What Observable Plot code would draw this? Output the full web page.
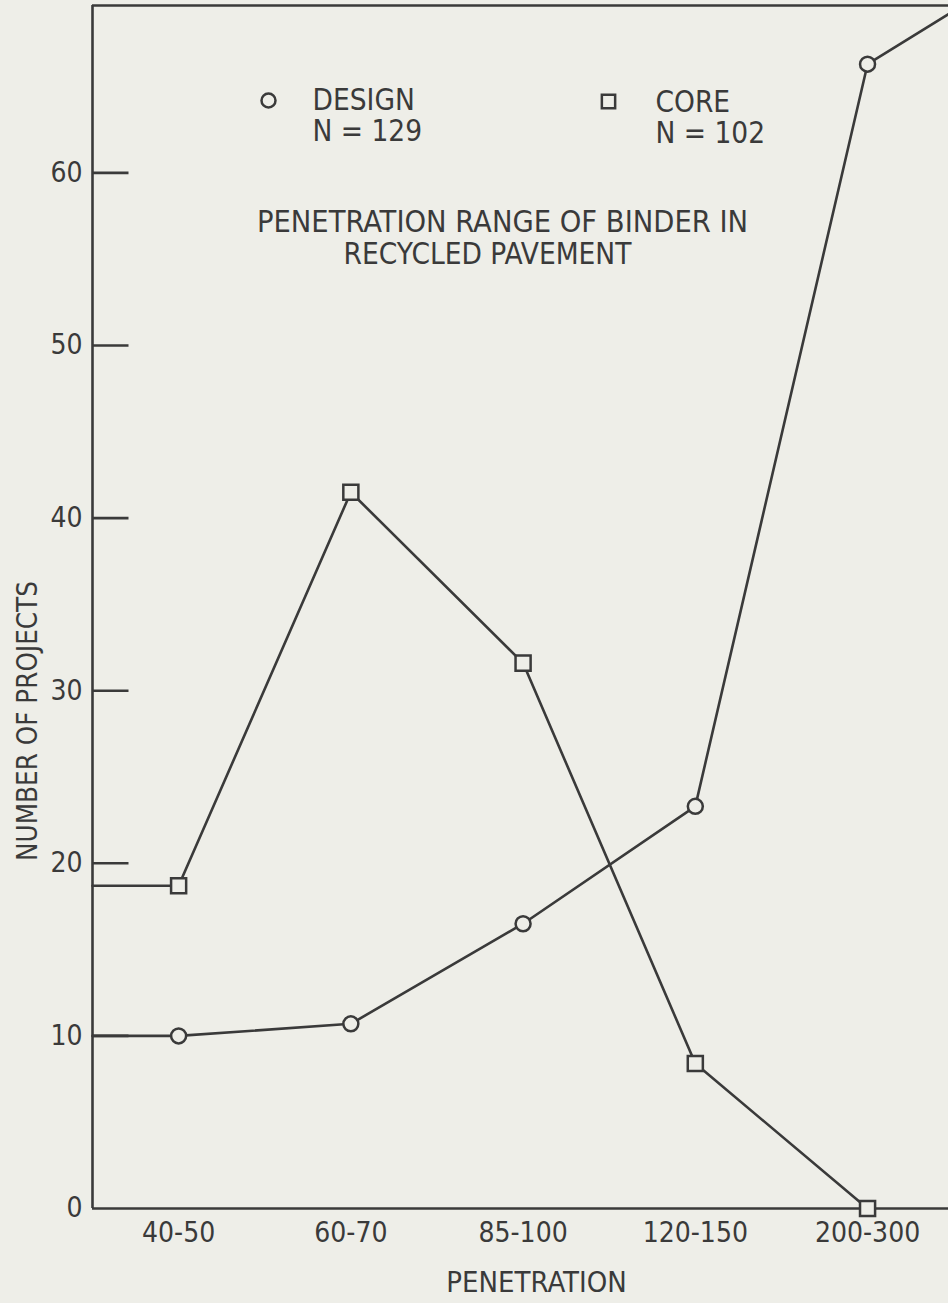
<!DOCTYPE html>
<html><head><meta charset="utf-8">
<script src="https://cdn.jsdelivr.net/npm/d3@7"></script>
<script src="https://cdn.jsdelivr.net/npm/@observablehq/plot@0.6"></script>
<style>
html,body{margin:0;padding:0;background:#eeeee8;}
#chart svg{display:block;}
</style></head><body><div id="chart"></div>
<script>
// ---- data ----
const categories = ["40-50", "60-70", "85-100", "120-150", "200-300"];
const designValues = [10.0, 10.7, 16.5, 23.3, 66.3];
const coreValues = [18.7, 41.5, 31.6, 8.4, 0];
const designTail = 69.2; // design line continues up to the right edge of the frame
const yTicks = [0, 10, 20, 30, 40, 50, 60];
const legendDesign = ["DESIGN", "N = 129"];
const legendCore = ["CORE", "N = 102"];
const titleLines = ["PENETRATION RANGE OF BINDER IN", "RECYCLED PAVEMENT"];
const xTitle = "PENETRATION";
const yTitle = "NUMBER OF PROJECTS";

// ---- styling ----
const ink = "#3a3a3a";
const bg = "#eeeee8";
const font = "'Liberation Sans Narrow', 'DejaVu Sans Condensed', 'Liberation Sans', sans-serif";
const xMin = -0.5, xMax = 4.47;
const yMax = 69.7;

const designPts = designValues.map((v, i) => ({i, v}));
const corePts = coreValues.map((v, i) => ({i, v}));
const designLine = [{i: xMin, v: designValues[0]}, ...designPts, {i: xMax, v: designTail}];
const coreLine = [{i: xMin, v: coreValues[0]}, ...corePts];

const tickSymbol = {draw(context, size) { context.moveTo(0, 0); context.lineTo(36, 0); }};

const txt = (s, o) => Plot.text([s], {frameAnchor: "top-left", fill: ink, fontSize: 29.5, lineAnchor: "middle", ...o});

const chart = Plot.plot({
  width: 948,
  height: 1303,
  marginLeft: 92,
  marginRight: 0,
  marginTop: 5,
  marginBottom: 95,
  style: {background: bg, fontFamily: font, fontSize: "28px", color: ink},
  x: {type: "linear", domain: [xMin, xMax], ticks: [0, 1, 2, 3, 4], tickFormat: i => categories[i], tickSize: 0, tickPadding: 14, label: null, fontSize: 30},
  y: {domain: [0, yMax], ticks: yTicks, tickSize: 0, tickPadding: 10, label: null},
  marks: [
    Plot.ruleX([xMin], {stroke: ink, strokeWidth: 2.6}),
    Plot.ruleY([0], {stroke: ink, strokeWidth: 2.6}),
    Plot.ruleY([yMax], {stroke: ink, strokeWidth: 2.6}),
    Plot.dot(yTicks.filter(t => t > 0), {x: () => xMin, y: d => d, symbol: tickSymbol, stroke: ink, strokeWidth: 2.6}),
    Plot.line(designLine, {x: "i", y: "v", stroke: ink, strokeWidth: 2.6}),
    Plot.line(coreLine, {x: "i", y: "v", stroke: ink, strokeWidth: 2.6}),
    Plot.dot(designPts, {x: "i", y: "v", r: 7.5, stroke: ink, fill: bg, strokeWidth: 2.5}),
    Plot.dot(corePts, {x: "i", y: "v", symbol: "square", r: 8.5, stroke: ink, fill: bg, strokeWidth: 2.5}),
    // legend
    Plot.dot([0], {frameAnchor: "top-left", dx: 176, dy: 95, r: 7, stroke: ink, fill: bg, strokeWidth: 2.5}),
    Plot.dot([0], {frameAnchor: "top-left", dx: 516, dy: 96, symbol: "square", r: 7.5, stroke: ink, fill: bg, strokeWidth: 2.5}),
    txt(legendDesign[0], {dx: 220, dy: 95, textAnchor: "start"}),
    txt(legendDesign[1], {dx: 220, dy: 126, textAnchor: "start"}),
    txt(legendCore[0], {dx: 563, dy: 97, textAnchor: "start"}),
    txt(legendCore[1], {dx: 563, dy: 128, textAnchor: "start"}),
    // title annotation
    txt(titleLines[0], {dx: 410, dy: 217, textAnchor: "middle", fontSize: 30.5}),
    txt(titleLines[1], {dx: 395, dy: 249, textAnchor: "middle"}),
    // axis titles
    Plot.text([xTitle], {frameAnchor: "bottom", dx: 16, dy: 74, fill: ink, fontSize: 29, lineAnchor: "middle", textAnchor: "middle"}),
    Plot.text([yTitle], {frameAnchor: "left", dx: -64, dy: 114, rotate: -90, fill: ink, fontSize: 27.5, lineAnchor: "middle", textAnchor: "middle"})
  ]
});
document.getElementById("chart").appendChild(chart);
</script>
</body></html>
